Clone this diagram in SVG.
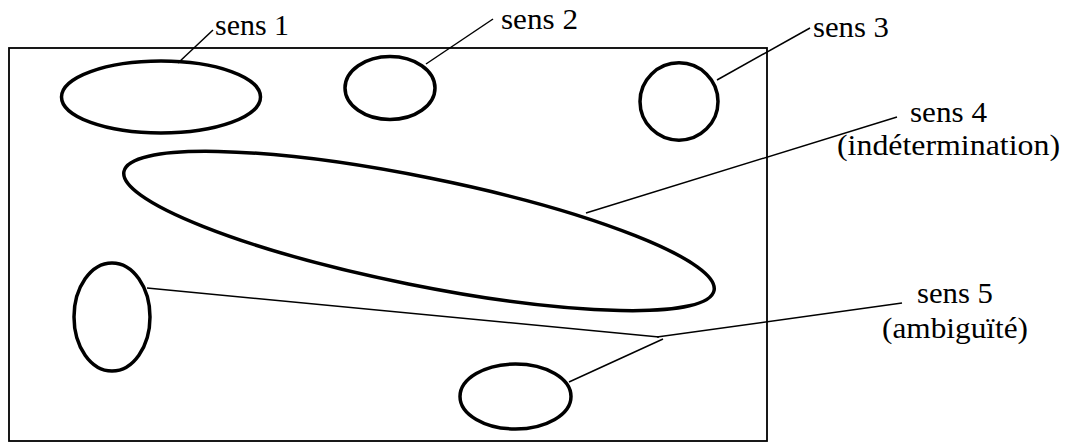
<svg xmlns="http://www.w3.org/2000/svg" width="1065" height="443" viewBox="0 0 1065 443">
<style>
.sense{fill:none;stroke:#000;stroke-width:3.5}
.lead{fill:none;stroke:#000;stroke-width:1.5}
.frame{fill:none;stroke:#000;stroke-width:1.8}
.lbl{font-family:'Liberation Serif',serif;font-size:29px;fill:#000}
</style>
<rect width="1065" height="443" fill="#fff"/>
<g id="frame"><rect class="frame" x="9" y="48" width="758" height="393"/></g>
<g id="sens1"><ellipse class="sense" cx="161" cy="97" rx="99.5" ry="36"/><text class="lbl" x="215" y="35" textLength="74" lengthAdjust="spacingAndGlyphs">sens 1</text></g>
<g id="sens2"><ellipse class="sense" cx="390" cy="88" rx="45" ry="31.5"/><text class="lbl" x="501" y="29" textLength="77" lengthAdjust="spacingAndGlyphs">sens 2</text></g>
<g id="sens3"><ellipse class="sense" cx="679" cy="101.5" rx="39" ry="38.7"/><text class="lbl" x="813" y="37" textLength="76" lengthAdjust="spacingAndGlyphs">sens 3</text></g>
<g id="sens4"><ellipse class="sense" cx="419" cy="231" rx="301" ry="54" transform="rotate(11.4 419 231)"/><text class="lbl" x="910" y="122" textLength="77" lengthAdjust="spacingAndGlyphs">sens 4</text><text class="lbl" x="837" y="155" textLength="223" lengthAdjust="spacingAndGlyphs">(indétermination)</text></g>
<g id="sens5"><ellipse class="sense" cx="112" cy="317" rx="38" ry="54"/><ellipse class="sense" cx="515.5" cy="396.5" rx="55.5" ry="32.5"/><text class="lbl" x="917" y="303" textLength="76" lengthAdjust="spacingAndGlyphs">sens 5</text><text class="lbl" x="882" y="338" textLength="146" lengthAdjust="spacingAndGlyphs">(ambiguïté)</text></g>
<g id="connectors">
<line class="lead" x1="178" y1="63" x2="213" y2="30"/>
<line class="lead" x1="426" y1="64" x2="493" y2="19"/>
<line class="lead" x1="717" y1="80" x2="810" y2="28"/>
<line class="lead" x1="586" y1="213" x2="897" y2="117"/>
<line class="lead" x1="147" y1="288" x2="659" y2="337"/>
<line class="lead" x1="657" y1="337" x2="902" y2="303"/>
<line class="lead" x1="663" y1="339" x2="569" y2="382"/>
</g>
</svg>
